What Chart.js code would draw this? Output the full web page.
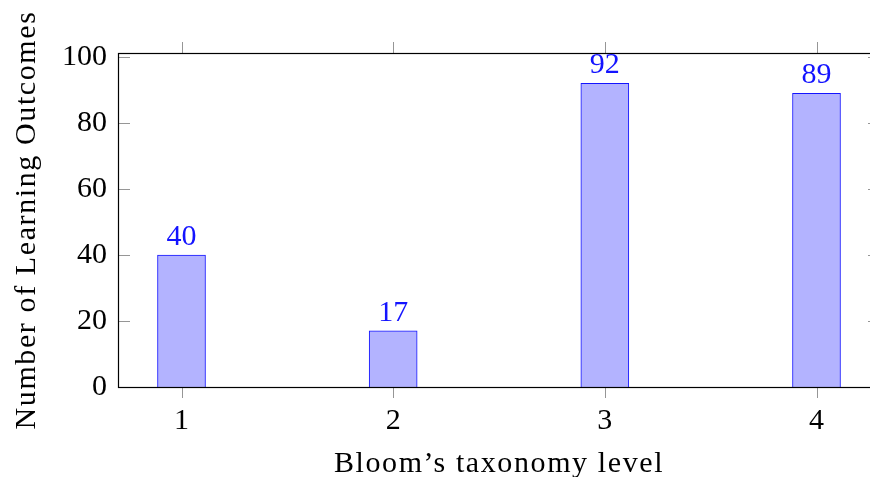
<!DOCTYPE html>
<html>
<head>
<meta charset="utf-8">
<script src="https://cdn.jsdelivr.net/npm/chart.js@4/dist/chart.umd.min.js"></script>
<style>
  html, body { margin: 0; padding: 0; background: #fff; overflow: hidden; }
  #wrap { width: 880px; height: 477px; }
</style>
</head>
<body>
<div id="wrap"><canvas id="c" width="880" height="477"></canvas></div>
<script>
// Bloom's taxonomy levels and the number of learning outcomes at each level
const levels = [1, 2, 3, 4];
const outcomes = [40, 17, 92, 89];
const yTicks = [0, 20, 40, 60, 80, 100];
const xTitle = 'Bloom\u2019s taxonomy level';
const yTitle = 'Number of Learning Outcomes';

const serif = "'Liberation Serif', 'DejaVu Serif', serif";
const TICK_GRAY = 'rgb(150,150,150)';

// Axis frame, tick marks, axis titles and value labels above the bars
const decorations = {
  id: 'decorations',
  afterDatasetsDraw(chart) {
    const { ctx, chartArea: a, scales: { x, y } } = chart;
    ctx.save();
    // tick marks
    ctx.strokeStyle = TICK_GRAY;
    ctx.lineWidth = 1;
    ctx.beginPath();
    levels.forEach(v => {
      const px = Math.round(x.getPixelForValue(v)) + 0.5;
      ctx.moveTo(px, a.bottom); ctx.lineTo(px, a.bottom + 11);
      ctx.moveTo(px, a.top); ctx.lineTo(px, a.top - 11);
    });
    yTicks.forEach(v => {
      const py = Math.round(y.getPixelForValue(v)) + 0.5;
      ctx.moveTo(a.left, py); ctx.lineTo(a.left + 12, py);
      ctx.moveTo(a.right, py); ctx.lineTo(a.right - 12, py);
    });
    ctx.stroke();
    // frame
    ctx.strokeStyle = '#000';
    ctx.lineWidth = 1.2;
    ctx.strokeRect(Math.round(a.left) + 0.5, Math.round(a.top) + 0.5,
                   Math.round(a.right - a.left) - 1, Math.round(a.bottom - a.top));
    // value labels
    ctx.fillStyle = 'rgb(20,20,255)';
    ctx.font = '30px ' + serif;
    ctx.textAlign = 'center';
    ctx.textBaseline = 'alphabetic';
    chart.getDatasetMeta(0).data.forEach((bar, i) => {
      ctx.fillText(String(outcomes[i]), bar.x, bar.y - 10);
    });
    // axis titles
    ctx.fillStyle = '#000';
    ctx.letterSpacing = '1.6px';
    ctx.fillText(xTitle, (a.left + a.right) / 2, 472);
    ctx.translate(35, (a.top + a.bottom) / 2);
    ctx.rotate(-Math.PI / 2);
    ctx.fillText(yTitle, 0, 0);
    ctx.restore();
  }
};

new Chart(document.getElementById('c'), {
  type: 'bar',
  data: {
    datasets: [{
      data: levels.map((l, i) => ({ x: l, y: outcomes[i] })),
      backgroundColor: 'rgb(179,179,255)',
      borderColor: 'rgb(20,20,255)',
      borderWidth: 1,
      barThickness: 48
    }]
  },
  options: {
    responsive: false,
    animation: false,
    devicePixelRatio: 1,
    layout: { padding: { top: 53, right: 0, left: 0, bottom: 0 } },
    plugins: { legend: { display: false }, tooltip: { enabled: false } },
    scales: {
      x: {
        type: 'linear',
        offset: false,
        min: 0.7,
        max: 4.3,
        grid: { display: false, drawTicks: false, offset: false },
        border: { display: false },
        afterBuildTicks: s => { s.ticks = levels.map(v => ({ value: v })); },
        afterFit: s => { s.height = 90; },
        ticks: {
          color: '#000',
          font: { family: serif, size: 30 },
          padding: 16,
          maxRotation: 0,
          callback: v => String(v)
        }
      },
      y: {
        min: 0,
        max: 101.2,
        grid: { display: false, drawTicks: false },
        border: { display: false },
        afterBuildTicks: s => { s.ticks = yTicks.map(v => ({ value: v })); },
        afterFit: s => { s.width = 118; },
        ticks: {
          color: '#000',
          font: { family: serif, size: 30 },
          padding: 11,
          callback: v => String(v)
        }
      }
    }
  },
  plugins: [decorations]
});
</script>
</body>
</html>
